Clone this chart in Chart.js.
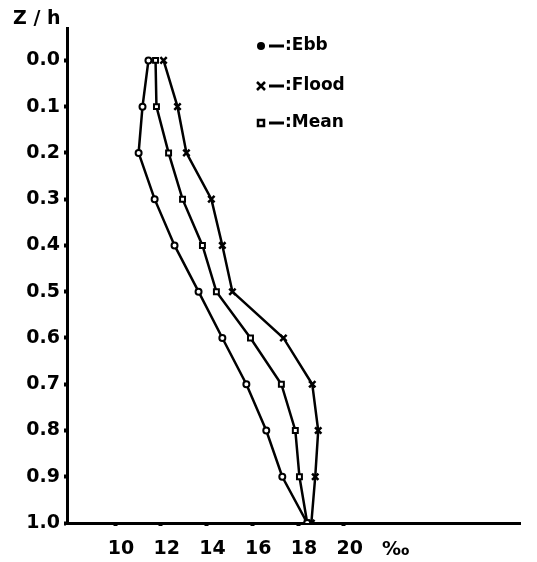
<!DOCTYPE html>
<html>
<head>
<meta charset="utf-8">
<script src="https://cdn.jsdelivr.net/npm/chart.js@4/dist/chart.umd.min.js"></script>
<style>
  html, body { margin: 0; padding: 0; background: #fff; }
  #wrap { width: 537px; height: 562px; }
</style>
</head>
<body>
<div id="wrap"><canvas id="c" width="537" height="562"></canvas></div>
<script>
// Relative depth Z/h (0 = surface, 1 = bottom)
const depths = [0.0, 0.1, 0.2, 0.3, 0.4, 0.5, 0.6, 0.7, 0.8, 0.9, 1.0];
// Salinity (‰) profiles
const ebb   = [11.46, 11.20, 11.03, 11.73, 12.60, 13.65, 14.69, 15.74, 16.61, 17.31, 18.40];
const flood = [12.12, 12.73, 13.12, 14.21, 14.69, 15.13, 17.36, 18.62, 18.88, 18.75, 18.58];
const mean  = [11.77, 11.81, 12.34, 12.95, 13.82, 14.43, 15.92, 17.27, 17.88, 18.06, 18.40];
// Axis tick labels
const xTicks = [10, 12, 14, 16, 18, 20];
const yTicks = [0.0, 0.1, 0.2, 0.3, 0.4, 0.5, 0.6, 0.7, 0.8, 0.9, 1.0];

const FONT = 'DejaVu Sans';
const toPoints = arr => arr.map((v, i) => ({ x: v, y: depths[i] }));

const baseDs = {
  borderColor: '#000',
  borderWidth: 2.5,
  pointBorderColor: '#000',
  pointBackgroundColor: '#fff',
  pointBorderWidth: 2,
  tension: 0,
  fill: false
};

// Axis titles and hand-lettered style key
const annotations = {
  id: 'annotations',
  afterDraw(chart) {
    const ctx = chart.ctx;
    ctx.save();
    ctx.fillStyle = '#000';
    ctx.strokeStyle = '#000';
    ctx.textBaseline = 'middle';
    ctx.font = 'bold 19px ' + FONT;
    ctx.textAlign = 'left';
    ctx.fillText('Z / h', 13, 19);
    ctx.fillText('‰', 382, 550);

    ctx.font = 'bold 17px ' + FONT;
    const rows = [
      { y: 46, label: ':Ebb', mark: 'dot' },
      { y: 86, label: ':Flood', mark: 'cross' },
      { y: 123, label: ':Mean', mark: 'square' }
    ];
    rows.forEach(r => {
      const mx = 261;
      ctx.lineWidth = 2.5;
      if (r.mark === 'dot') {
        ctx.beginPath(); ctx.arc(mx, r.y, 4, 0, Math.PI * 2); ctx.fill();
      } else if (r.mark === 'cross') {
        ctx.beginPath();
        ctx.moveTo(mx - 4, r.y - 4); ctx.lineTo(mx + 4, r.y + 4);
        ctx.moveTo(mx + 4, r.y - 4); ctx.lineTo(mx - 4, r.y + 4);
        ctx.stroke();
      } else {
        ctx.strokeRect(mx - 3, r.y - 3, 6, 6);
      }
      ctx.lineWidth = 3;
      ctx.beginPath(); ctx.moveTo(269, r.y); ctx.lineTo(284, r.y); ctx.stroke();
      ctx.fillText(r.label, 285, r.y);
    });
    ctx.restore();
  }
};

new Chart(document.getElementById('c'), {
  type: 'line',
  data: {
    datasets: [
      Object.assign({}, baseDs, { label: 'Ebb', data: toPoints(ebb), pointStyle: 'circle', pointRadius: 3 }),
      Object.assign({}, baseDs, { label: 'Flood', data: toPoints(flood), pointStyle: 'crossRot', pointRadius: 4.5, pointBorderWidth: 2.5 }),
      Object.assign({}, baseDs, { label: 'Mean', data: toPoints(mean), pointStyle: 'rect', pointRadius: 3.5 })
    ]
  },
  options: {
    responsive: false,
    animation: false,
    events: [],
    layout: { padding: { left: 0, top: 28, right: 17, bottom: 0 } },
    plugins: { legend: { display: false }, tooltip: { enabled: false } },
    scales: {
      x: {
        type: 'linear',
        min: 7.9,
        max: 27.7,
        afterBuildTicks: s => { s.ticks = xTicks.map(v => ({ value: v })); },
        afterFit: s => { s.height = 39; },
        border: { display: true, color: '#000', width: 3 },
        grid: { drawOnChartArea: false, drawTicks: true, tickLength: 3, tickWidth: 4, color: '#000' },
        ticks: {
          color: '#000',
          padding: 12,
          labelOffset: 6,
          maxRotation: 0,
          autoSkip: false,
          font: { family: FONT, size: 19, weight: 'bold' },
          callback: v => String(v)
        }
      },
      y: {
        type: 'linear',
        reverse: true,
        min: -0.07,
        max: 1.0,
        afterBuildTicks: s => { s.ticks = yTicks.map(v => ({ value: v })); },
        afterFit: s => { s.width = 67; },
        border: { display: true, color: '#000', width: 3 },
        grid: { drawOnChartArea: false, drawTicks: true, tickLength: 3, tickWidth: 4, color: '#000' },
        ticks: {
          color: '#000',
          padding: 4,
          autoSkip: false,
          font: { family: FONT, size: 19, weight: 'bold' },
          callback: v => Number(v).toFixed(1)
        }
      }
    }
  },
  plugins: [annotations]
});
</script>
</body>
</html>
